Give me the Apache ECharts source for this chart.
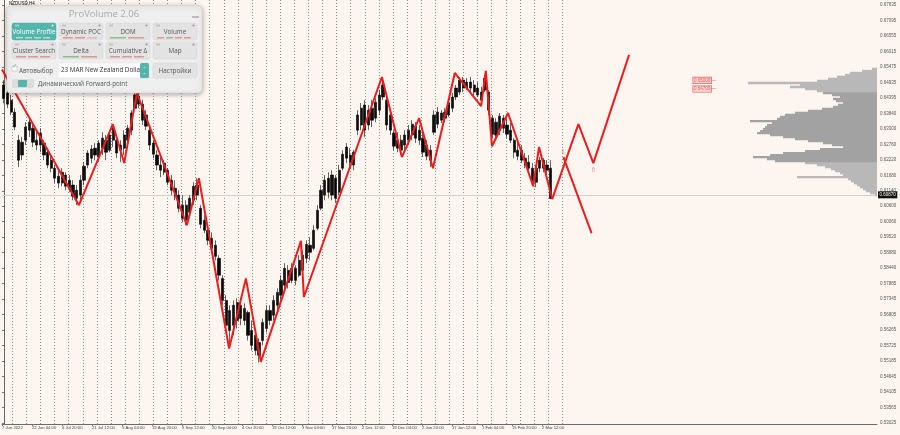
<!DOCTYPE html>
<html><head><meta charset="utf-8">
<script src="https://cdn.jsdelivr.net/npm/echarts@6/dist/echarts.min.js"></script>
<style>html,body{margin:0;padding:0;background:#fdf5ef}#c{width:900px;height:435px}</style>
</head><body><div id="c"></div><script>
// ---- candles (NZDUSD H4, condensed) ----
const opens=[0.6484,0.6456,0.6431,0.6389,0.6291,0.6239,0.6291,0.6326,0.6333,0.6291,0.6274,0.6281,0.6249,0.6221,0.6193,0.6165,0.6141,0.6169,0.6151,0.6134,0.6088,0.6099,0.6151,0.6204,0.6228,0.6263,0.6232,0.6263,0.6291,0.6256,0.6291,0.6291,0.6256,0.6263,0.6291,0.6326,0.6403,0.6445,0.6417,0.6379,0.6326,0.6281,0.6239,0.6204,0.6179,0.6186,0.6151,0.6123,0.6099,0.6064,0.6011,0.6039,0.6081,0.6134,0.6053,0.6011,0.5976,0.5948,0.5924,0.5878,0.5808,0.5731,0.5626,0.5644,0.5661,0.5714,0.5661,0.5689,0.5626,0.5609,0.5539,0.5591,0.5633,0.5696,0.5679,0.5714,0.5749,0.5784,0.5836,0.5801,0.5843,0.5819,0.5836,0.5878,0.5924,0.5913,0.5983,0.6053,0.6099,0.6158,0.6099,0.6158,0.6109,0.6193,0.6267,0.6239,0.6204,0.6326,0.6344,0.6414,0.6344,0.6403,0.6368,0.6396,0.6442,0.6431,0.6379,0.6316,0.6291,0.6256,0.6274,0.6291,0.6309,0.6340,0.6326,0.6298,0.6274,0.6221,0.6319,0.6389,0.6361,0.6389,0.6379,0.6403,0.6442,0.6459,0.6501,0.6473,0.6494,0.6484,0.6473,0.6459,0.6466,0.6459,0.6368,0.6309,0.6326,0.6368,0.6344,0.6326,0.6291,0.6256,0.6256,0.6228,0.6214,0.6193,0.6144,0.6193,0.6221,0.6204,0.6193];
const closes=[0.6438,0.6417,0.6389,0.6337,0.6221,0.6284,0.6337,0.6354,0.6284,0.6274,0.6316,0.6239,0.6204,0.6193,0.6158,0.6141,0.6179,0.6130,0.6123,0.6095,0.6116,0.6151,0.6200,0.6246,0.6260,0.6239,0.6281,0.6298,0.6249,0.6309,0.6333,0.6246,0.6274,0.6309,0.6333,0.6386,0.6449,0.6417,0.6361,0.6340,0.6274,0.6242,0.6204,0.6186,0.6211,0.6144,0.6116,0.6095,0.6053,0.6018,0.6064,0.6088,0.6130,0.6099,0.5997,0.5976,0.5941,0.5913,0.5885,0.5819,0.5731,0.5644,0.5696,0.5714,0.5724,0.5668,0.5703,0.5609,0.5574,0.5556,0.5584,0.5654,0.5696,0.5661,0.5731,0.5759,0.5801,0.5843,0.5794,0.5843,0.5801,0.5871,0.5889,0.5927,0.5899,0.5976,0.6046,0.6116,0.6151,0.6109,0.6169,0.6088,0.6186,0.6242,0.6228,0.6214,0.6249,0.6379,0.6403,0.6326,0.6396,0.6361,0.6424,0.6449,0.6484,0.6344,0.6326,0.6270,0.6263,0.6291,0.6309,0.6326,0.6347,0.6298,0.6291,0.6249,0.6235,0.6256,0.6379,0.6347,0.6386,0.6368,0.6421,0.6442,0.6473,0.6501,0.6473,0.6494,0.6473,0.6459,0.6449,0.6431,0.6508,0.6396,0.6312,0.6354,0.6375,0.6333,0.6312,0.6291,0.6249,0.6235,0.6221,0.6204,0.6193,0.6151,0.6193,0.6221,0.6193,0.6186,0.6087];
const lows=[0.6420,0.6403,0.6379,0.6326,0.6197,0.6221,0.6274,0.6302,0.6267,0.6256,0.6249,0.6221,0.6193,0.6179,0.6141,0.6123,0.6130,0.6116,0.6109,0.6081,0.6064,0.6081,0.6134,0.6193,0.6211,0.6221,0.6214,0.6239,0.6221,0.6249,0.6267,0.6228,0.6214,0.6239,0.6263,0.6309,0.6396,0.6403,0.6344,0.6326,0.6256,0.6228,0.6186,0.6162,0.6169,0.6134,0.6099,0.6081,0.6039,0.6004,0.5994,0.6022,0.6064,0.6081,0.5983,0.5966,0.5924,0.5899,0.5871,0.5801,0.5714,0.5626,0.5574,0.5609,0.5633,0.5644,0.5644,0.5591,0.5556,0.5539,0.5514,0.5574,0.5619,0.5644,0.5661,0.5689,0.5731,0.5766,0.5773,0.5791,0.5784,0.5812,0.5819,0.5861,0.5871,0.5906,0.5976,0.6046,0.6081,0.6088,0.6081,0.6071,0.6099,0.6186,0.6211,0.6197,0.6186,0.6309,0.6326,0.6302,0.6326,0.6337,0.6354,0.6379,0.6431,0.6326,0.6309,0.6256,0.6249,0.6239,0.6256,0.6274,0.6291,0.6281,0.6274,0.6232,0.6221,0.6197,0.6309,0.6333,0.6351,0.6354,0.6372,0.6389,0.6431,0.6449,0.6459,0.6466,0.6459,0.6449,0.6442,0.6421,0.6459,0.6379,0.6298,0.6291,0.6309,0.6316,0.6298,0.6281,0.6228,0.6221,0.6211,0.6193,0.6186,0.6134,0.6127,0.6179,0.6179,0.6169,0.6085];
const highs=[0.6501,0.6473,0.6449,0.6403,0.6309,0.6302,0.6354,0.6372,0.6344,0.6326,0.6333,0.6291,0.6263,0.6239,0.6204,0.6186,0.6193,0.6179,0.6169,0.6151,0.6134,0.6169,0.6214,0.6256,0.6274,0.6281,0.6291,0.6319,0.6309,0.6326,0.6347,0.6302,0.6291,0.6326,0.6344,0.6396,0.6459,0.6459,0.6431,0.6396,0.6344,0.6291,0.6256,0.6239,0.6221,0.6193,0.6169,0.6151,0.6116,0.6099,0.6081,0.6099,0.6144,0.6158,0.6064,0.6029,0.5994,0.5969,0.5941,0.5889,0.5819,0.5749,0.5714,0.5731,0.5738,0.5731,0.5721,0.5696,0.5661,0.5626,0.5598,0.5668,0.5714,0.5714,0.5749,0.5773,0.5819,0.5861,0.5854,0.5861,0.5854,0.5889,0.5906,0.5941,0.5952,0.5994,0.6064,0.6134,0.6169,0.6179,0.6186,0.6169,0.6204,0.6256,0.6281,0.6263,0.6256,0.6396,0.6421,0.6431,0.6414,0.6431,0.6438,0.6466,0.6501,0.6449,0.6396,0.6326,0.6319,0.6309,0.6326,0.6344,0.6361,0.6354,0.6344,0.6319,0.6291,0.6274,0.6396,0.6407,0.6396,0.6403,0.6431,0.6456,0.6484,0.6512,0.6512,0.6508,0.6512,0.6501,0.6494,0.6477,0.6519,0.6466,0.6379,0.6368,0.6386,0.6379,0.6368,0.6351,0.6298,0.6291,0.6274,0.6246,0.6239,0.6211,0.6204,0.6232,0.6228,0.6221,0.6221];
const currentPrice=0.6087, currentPriceText='0.60870';

// ---- zigzag indicator (bar-index, price) ----
const zzIdx=[-0.5,20.6,29.9,33.0,36.5,50.2,53.5,61.8,66.4,70.5,81.5,82.3,103.7,109.2,113.9,117.7,123.7,130.9,132.2,133.9,138.3,145.2,146.8,150.4];
const zzPrice=[0.6538,0.6064,0.6347,0.6211,0.6456,0.5994,0.6158,0.5563,0.5808,0.5516,0.5939,0.5743,0.6512,0.6232,0.6368,0.6193,0.6526,0.6410,0.6533,0.6270,0.6386,0.6130,0.6267,0.6085];
const proj1Idx=[150.4,157.6,161.7,171.5], proj1Price=[0.6085,0.6347,0.6211,0.6589];
const proj2Idx=[153.5,161.2], proj2Price=[0.6232,0.5966];
const arrowIdx=[153.4,161.7], arrowPrice=[0.6250,0.6187], arrowText=['⇩','⇧'];
const levelIdx=[191.8,191.8], levelPrice=[0.6500,0.6470], levelText=['0.65000','0.64700'];

// ---- volume profile ----
const profileBase=0.6096, profileBin=0.0007;
const profileVolumes=[2,7,11,14,17,20,23,26,29,80,34,37,42,46,52,60,72,102,110,124,107,94,72,57,34,45,54,69,82,94,107,120,117,114,112,110,105,127,100,97,92,82,69,55,44,39,34,41,44,37,45,54,60,72,87,77,129,60,49,40,32,27,15,5];
const vaLow=0.6215, vaHigh=0.6459;

// ---- axis labels ----
const yLabels=['0.67635','0.67095','0.66555','0.66015','0.65475','0.64935','0.64395','0.63840','0.63300','0.62760','0.62220','0.61680','0.61140','0.60600','0.60060','0.59520','0.58980','0.58440','0.57885','0.57345','0.56805','0.56265','0.55725','0.55185','0.54645','0.54105','0.53565','0.53025'];
const xLabels=['7 Jun 2022','22 Jun 04:00','6 Jul 20:00','21 Jul 12:00','5 Aug 04:00','19 Aug 20:00','5 Sep 12:00','20 Sep 04:00','4 Oct 20:00','19 Oct 12:00','3 Nov 04:00','17 Nov 20:00','2 Dec 12:00','19 Dec 04:00','2 Jan 20:00','17 Jan 12:00','1 Feb 04:00','15 Feb 20:00','2 Mar 12:00'];
const weekCount=39;
const slotCount=240;
const priceMin=0.5299, priceMax=0.6781;

const slots=Array.from({length:slotCount},(_,i)=>String(i));
const candleData=opens.map((o,i)=>[o,closes[i],lows[i],highs[i]]);
const zz=zzIdx.map((x,i)=>[x,zzPrice[i]]);
const p1=proj1Idx.map((x,i)=>[x,proj1Price[i]]);
const p2=proj2Idx.map((x,i)=>[x,proj2Price[i]]);
const arrows=arrowIdx.map((x,i)=>({value:[x,arrowPrice[i]],name:arrowText[i]}));
const levels=levelIdx.map((x,i)=>({value:[x,levelPrice[i]],name:levelText[i]}));
const profileData=profileVolumes.map((v,j)=>[profileBase+j*profileBin,profileBase+(j+1)*profileBin,v]);

const RED='#ee1c1c', TEAL='#55b5aa';
const F='Liberation Sans';
const G=[]; // panel graphics
function add(e){e.z=100;G.push(e);}
add({type:'text',style:{x:9,y:1,text:'NZDUSD,H4',fill:'#111',fontSize:4.5,fontFamily:F}});
add({type:'rect',shape:{x:7,y:6,width:195,height:87,r:4},style:{fill:'#efefef',stroke:'#d8d8d8',lineWidth:0.6,shadowBlur:5,shadowColor:'rgba(0,0,0,0.35)',shadowOffsetY:1}});
add({type:'text',style:{x:104,y:14.5,text:'ProVolume 2.06',fill:'#a8a8a8',fontSize:9.5,fontFamily:'Open Sans',align:'center',verticalAlign:'middle'}});
add({type:'line',shape:{x1:192,y1:17,x2:199,y2:17},style:{stroke:'#888',lineWidth:1}});
function button(x,y,w,h,label,active,marks){
  add({type:'rect',shape:{x,y,width:w,height:h,r:2},style:{fill:active?TEAL:'#e3e3e3',stroke:active?'#4aa79c':'#d2d2d2',lineWidth:0.5}});
  add({type:'text',style:{x:x+w/2,y:y+h/2+0.5,text:label,fill:active?'#fff':'#555',fontSize:6.3,fontFamily:'Open Sans',align:'center',verticalAlign:'middle'}});
  if(marks){
    add({type:'rect',shape:{x:x+3,y:y+1.5,width:4,height:2},style:{fill:active?'#8fd0c8':'#c4c4c4'}});
    add({type:'circle',shape:{cx:x+w-3.5,cy:y+2.5,r:1.1},style:{fill:active?'#d5efec':'#9a9a9a'}});
    marks.forEach((c,k)=>add({type:'rect',shape:{x:x+4+k*(w-8)/marks.length,y:y+h-2.6,width:(w-8)/marks.length-2,height:0.9},style:{fill:c}}));
  }
}
button(12,23,44,17,'Volume Profile',true,['#e8f6f4','#e8f6f4','#e8f6f4','#e8f6f4']);
button(59,23,44,17,'Dynamic POC',false,['#e06060','#e06060','#e8a0a0']);
button(106,23,44,17,'DOM',false,['#5aa05a','#e06060']);
button(153,23,44,17,'Volume',false,['#e06060','#5aa05a','#e06060','#e06060']);
button(12,42,44,17,'Cluster Search',false,['#e06060','#e06060','#e06060']);
button(59,42,44,17,'Delta',false,['#5aa05a','#e06060']);
button(106,42,44,17,'Cumulative Δ',false,['#e06060','#e06060','#e06060']);
button(153,42,44,17,'Map',false,[]);
add({type:'rect',shape:{x:12,y:66,width:5,height:5},style:{fill:'#fff',stroke:'#aaa',lineWidth:0.5}});
add({type:'text',style:{x:12,y:63,text:'✓',fill:TEAL,fontSize:6.5,fontFamily:'DejaVu Sans'}});
add({type:'text',style:{x:19,y:71,text:'Автовыбор',fill:'#555',fontSize:6.3,fontFamily:'Open Sans',verticalAlign:'middle'}});
add({type:'rect',shape:{x:58,y:63,width:91,height:15,r:1.5},style:{fill:'#fff',stroke:'#dcdcdc',lineWidth:0.5}});
add({type:'text',style:{x:61,y:70.5,text:'23 MAR New Zealand Dollar',fill:'#333',fontSize:6.3,fontFamily:'Open Sans',verticalAlign:'middle'}});
add({type:'rect',shape:{x:140,y:63,width:9,height:15,r:1.5},style:{fill:TEAL}});
add({type:'text',style:{x:144.5,y:70.5,text:'⌃\n⌄',fill:'#fff',fontSize:4,lineHeight:4,fontFamily:'DejaVu Sans',align:'center',verticalAlign:'middle'}});
button(153,63,44,15,'Настройки',false,null);
add({type:'rect',shape:{x:12,y:79,width:22,height:9,r:2},style:{fill:'#dcdcdc'}});
add({type:'rect',shape:{x:18,y:80,width:9,height:7,r:1},style:{fill:TEAL}});
add({type:'text',style:{x:38,y:84,text:'Динамический Forward-point',fill:'#555',fontSize:6.3,fontFamily:'Open Sans',verticalAlign:'middle'}});

const hidden={show:false};
const chart=echarts.init(document.getElementById('c'),null,{renderer:'canvas'});
chart.setOption({
  animation:false,
  backgroundColor:'#fdf5ef',
  grid:[
    {left:2,right:23,top:0,bottom:11,outerBoundsMode:'none'},
    {left:2,right:23,top:5,bottom:12,outerBoundsMode:'none'},
    {left:2,width:560,top:0,bottom:11,outerBoundsMode:'none'},
    {left:12.3,width:549.9,top:0,bottom:11,outerBoundsMode:'none'},
    {left:740,right:23,top:0,bottom:11,outerBoundsMode:'none'}
  ],
  xAxis:[
    {type:'category',gridIndex:0,data:slots,boundaryGap:true,axisLine:{show:true,lineStyle:{color:'#6a6a6a',width:1}},axisTick:hidden,axisLabel:hidden,splitLine:hidden},
    {type:'value',gridIndex:0,min:-0.5,max:slotCount-0.5,show:false},
    {type:'value',gridIndex:1,min:0,max:1,show:false},
    {type:'value',gridIndex:2,min:0,max:18.67,interval:1,axisLine:hidden,splitLine:hidden,
      axisTick:{show:true,length:2,lineStyle:{color:'#777'}},
      axisLabel:{show:true,align:'left',margin:2,fontSize:4.2,color:'#444',fontFamily:F,showMaxLabel:false,
        formatter:v=>xLabels[Math.round(v)]||''}},
    {type:'value',gridIndex:3,min:0,max:weekCount,interval:1,axisLine:hidden,axisTick:hidden,axisLabel:hidden,
      splitLine:{show:true,showMinLine:true,showMaxLine:true,lineStyle:{color:'#8a8a8a',width:1,type:[1,2]}}},
    {type:'value',gridIndex:4,min:0,max:137,inverse:true,show:false}
  ],
  yAxis:[
    {type:'value',gridIndex:0,min:priceMin,max:priceMax,position:'right',axisLine:{show:true,lineStyle:{color:'#6a6a6a',width:1}},axisTick:hidden,axisLabel:hidden,splitLine:hidden},
    {type:'category',gridIndex:1,data:yLabels.slice().reverse(),boundaryGap:false,position:'right',axisLine:hidden,
      axisTick:{show:true,length:2,interval:0,lineStyle:{color:'#777'}},
      axisLabel:{show:true,interval:0,margin:3,fontSize:4.5,color:'#555',fontFamily:F},splitLine:hidden},
    {type:'value',gridIndex:2,show:false},
    {type:'value',gridIndex:3,show:false},
    {type:'value',gridIndex:4,min:priceMin,max:priceMax,show:false}
  ],
  series:[
    {type:'candlestick',xAxisIndex:0,yAxisIndex:0,data:candleData,barWidth:2.7,z:3,
      itemStyle:{color:'#111',color0:'#000',borderColor:'#000',borderColor0:'#000',borderWidth:0.6},
      markLine:{silent:true,symbol:'none',z:1,
        lineStyle:{color:'#cfcfcf',width:1,type:'solid'},
        label:{show:true,position:'end',distance:1,formatter:currentPriceText,backgroundColor:'#111',color:'#fff',fontSize:4.5,padding:[1,1.5],fontFamily:F},
        data:[{yAxis:currentPrice}]}},
    {type:'line',xAxisIndex:1,yAxisIndex:0,data:zz,symbol:'none',z:5,lineStyle:{color:RED,width:2}},
    {type:'line',xAxisIndex:1,yAxisIndex:0,data:p1,symbol:'none',z:5,lineStyle:{color:RED,width:2}},
    {type:'line',xAxisIndex:1,yAxisIndex:0,data:p2,symbol:'none',z:5,lineStyle:{color:RED,width:2}},
    {type:'scatter',xAxisIndex:1,yAxisIndex:0,data:arrows,symbolSize:0,z:6,
      label:{show:true,position:'inside',formatter:'{b}',color:'#e85050',fontSize:7,fontFamily:'DejaVu Sans'}},
    {type:'scatter',xAxisIndex:1,yAxisIndex:0,data:levels,symbolSize:0,z:6,
      label:{show:true,position:'inside',align:'left',offset:[-10,0],formatter:p=>'{b|'+p.name+'}{d|—}',
        rich:{b:{color:'#e33',fontSize:4.5,fontFamily:F,backgroundColor:'#f7d3d0',borderColor:'#e33',borderWidth:0.6,padding:[0.5,1]},
              d:{color:'#e33',fontSize:5,fontFamily:F}}}},
    {type:'custom',xAxisIndex:5,yAxisIndex:4,data:profileData,encode:{x:2,y:[0,1]},z:2,
      renderItem:(params,api)=>{
        const lo=api.value(0),hi=api.value(1),v=api.value(2);
        const a=api.coord([v,hi]),b=api.coord([0,lo]);
        const mid=(lo+hi)/2;
        return {type:'rect',shape:{x:a[0],y:a[1],width:b[0]-a[0],height:b[1]-a[1]+0.3},
          style:{fill:(mid>=vaLow&&mid<=vaHigh)?'#a2a2a2':'#b8b8b8'}};
      }}
  ],
  graphic:{elements:G}
});
</script></body></html>
